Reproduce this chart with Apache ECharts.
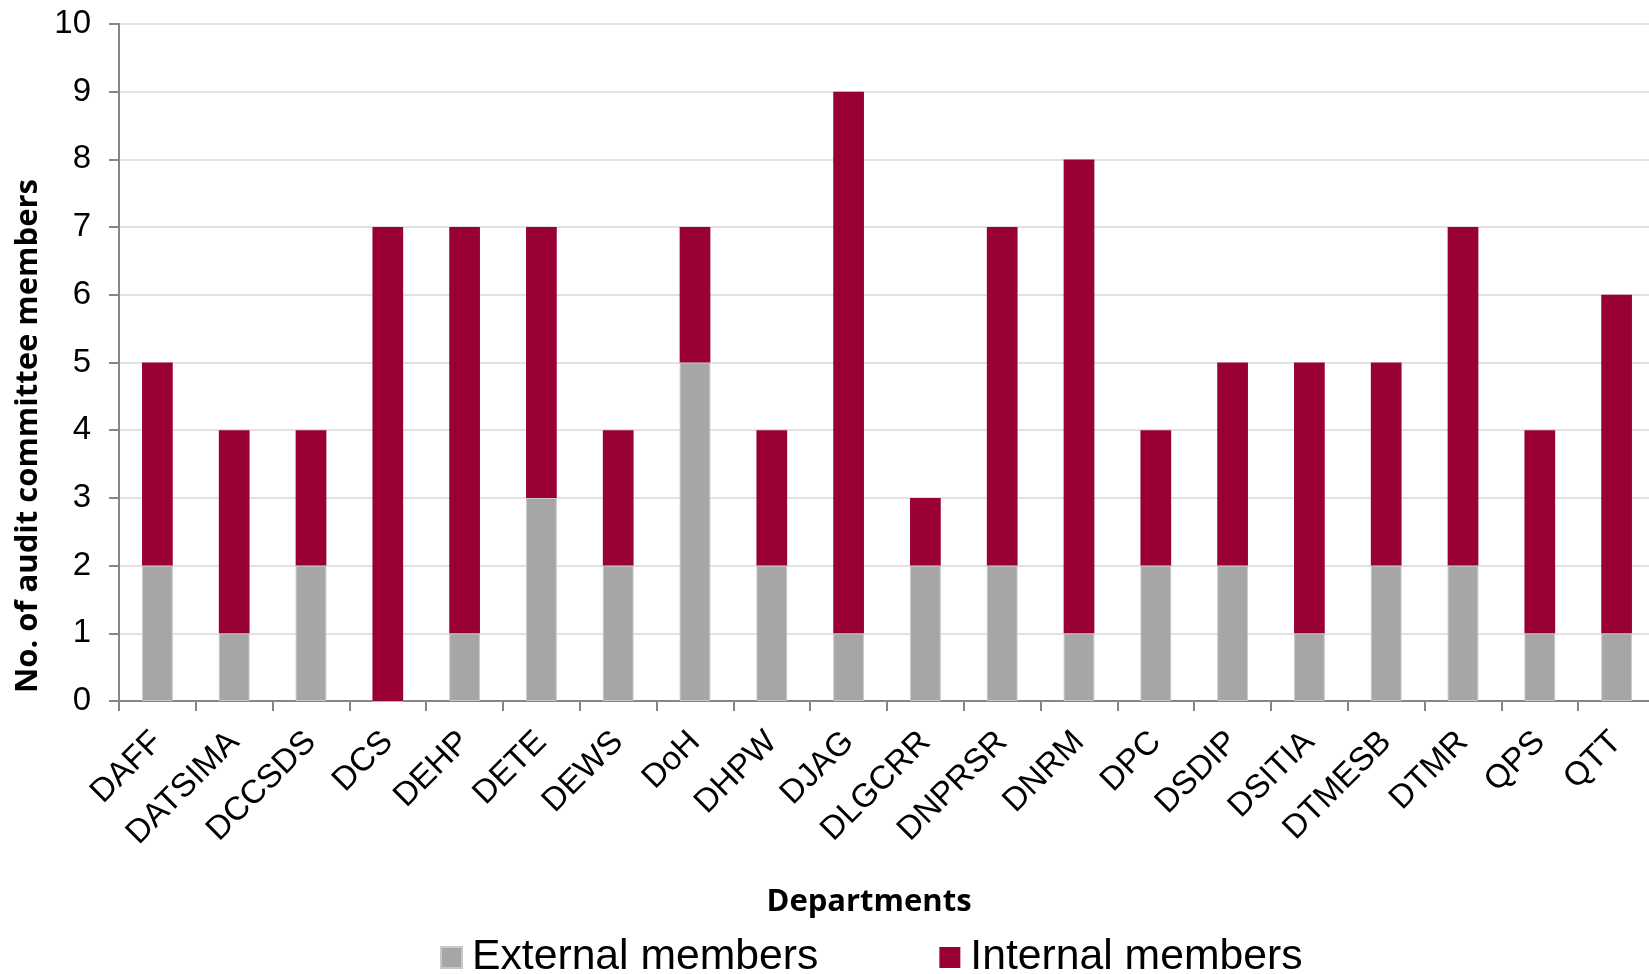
<!DOCTYPE html>
<html>
<head>
<meta charset="utf-8">
<script src="https://cdn.jsdelivr.net/npm/echarts@6/dist/echarts.min.js"></script>
<style>
  html, body { margin: 0; padding: 0; background: #fff; overflow: hidden; width: 1649px; height: 974px; }
  /* plot area runs slightly past the right edge of the page */
  #chart { width: 1656px; height: 974px; }
</style>
</head>
<body>
<div id="chart"></div>
<script>
// Audit committee composition by department
const departments = ['DAFF', 'DATSIMA', 'DCCSDS', 'DCS', 'DEHP', 'DETE', 'DEWS', 'DoH', 'DHPW', 'DJAG',
  'DLGCRR', 'DNPRSR', 'DNRM', 'DPC', 'DSDIP', 'DSITIA', 'DTMESB', 'DTMR', 'QPS', 'QTT'];
const externalMembers = [2, 1, 2, 0, 1, 3, 2, 5, 2, 1, 2, 2, 1, 2, 2, 1, 2, 2, 1, 1];
const internalMembers = [3, 3, 2, 7, 6, 4, 2, 2, 2, 8, 1, 5, 7, 2, 3, 4, 3, 5, 3, 5];
const seriesNames = ['External members', 'Internal members'];
const yAxisTitle = 'No. of audit committee members';
const xAxisTitle = 'Departments';

const GREY = '#a6a6a6';
const CLARET = '#990033';
const AXIS = '#868686';
const GRID = '#d9d9d9';

const chart = echarts.init(document.getElementById('chart'), null, { renderer: 'canvas' });

chart.setOption({
  animation: false,
  backgroundColor: '#ffffff',
  textStyle: { fontFamily: 'Liberation Sans, Arial, sans-serif' },
  grid: { left: 119, top: 24, right: 1, bottom: 273, containLabel: false },
  legend: {
    data: seriesNames,
    left: 440,
    top: 936,
    padding: 0,
    itemWidth: 21,
    itemHeight: 21,
    itemGap: 121,
    icon: 'rect',
    textStyle: { fontSize: 42.7, color: '#000', lineHeight: 43, padding: [0, 0, 0, 5] }
  },
  xAxis: {
    type: 'category',
    data: departments,
    axisLine: { lineStyle: { color: AXIS, width: 2 } },
    axisTick: { show: true, length: 10, lineStyle: { color: AXIS, width: 2 } },
    axisLabel: { rotate: 45, fontSize: 33, color: '#000', margin: 36, interval: 0 },
    splitLine: { show: false }
  },
  yAxis: {
    type: 'value',
    min: 0,
    max: 10,
    interval: 1,
    axisLine: { show: true, lineStyle: { color: AXIS, width: 2 } },
    axisTick: { show: true, length: 10, lineStyle: { color: AXIS, width: 2 } },
    axisLabel: { fontSize: 33, color: '#000', margin: 28 },
    splitLine: { show: true, lineStyle: { color: GRID, width: 1.5 } }
  },
  graphic: [
    {
      type: 'text',
      x: 28,
      y: 436,
      rotation: Math.PI / 2,
      style: {
        text: yAxisTitle,
        font: 'bold 31px "Open Sans"',
        fill: '#000',
        align: 'center',
        verticalAlign: 'middle'
      }
    },
    {
      type: 'text',
      x: 869,
      y: 902,
      style: {
        text: xAxisTitle,
        font: 'bold 31px "Open Sans"',
        fill: '#000',
        align: 'center',
        verticalAlign: 'middle'
      }
    }
  ],
  series: [
    {
      name: seriesNames[0],
      type: 'bar',
      stack: 'members',
      data: externalMembers,
      barWidth: '40%',
      itemStyle: { color: GREY, borderColor: '#c8c8c8', borderWidth: 1 }
    },
    {
      name: seriesNames[1],
      type: 'bar',
      stack: 'members',
      data: internalMembers,
      barWidth: '40%',
      itemStyle: { color: CLARET }
    }
  ]
});
</script>
</body>
</html>
